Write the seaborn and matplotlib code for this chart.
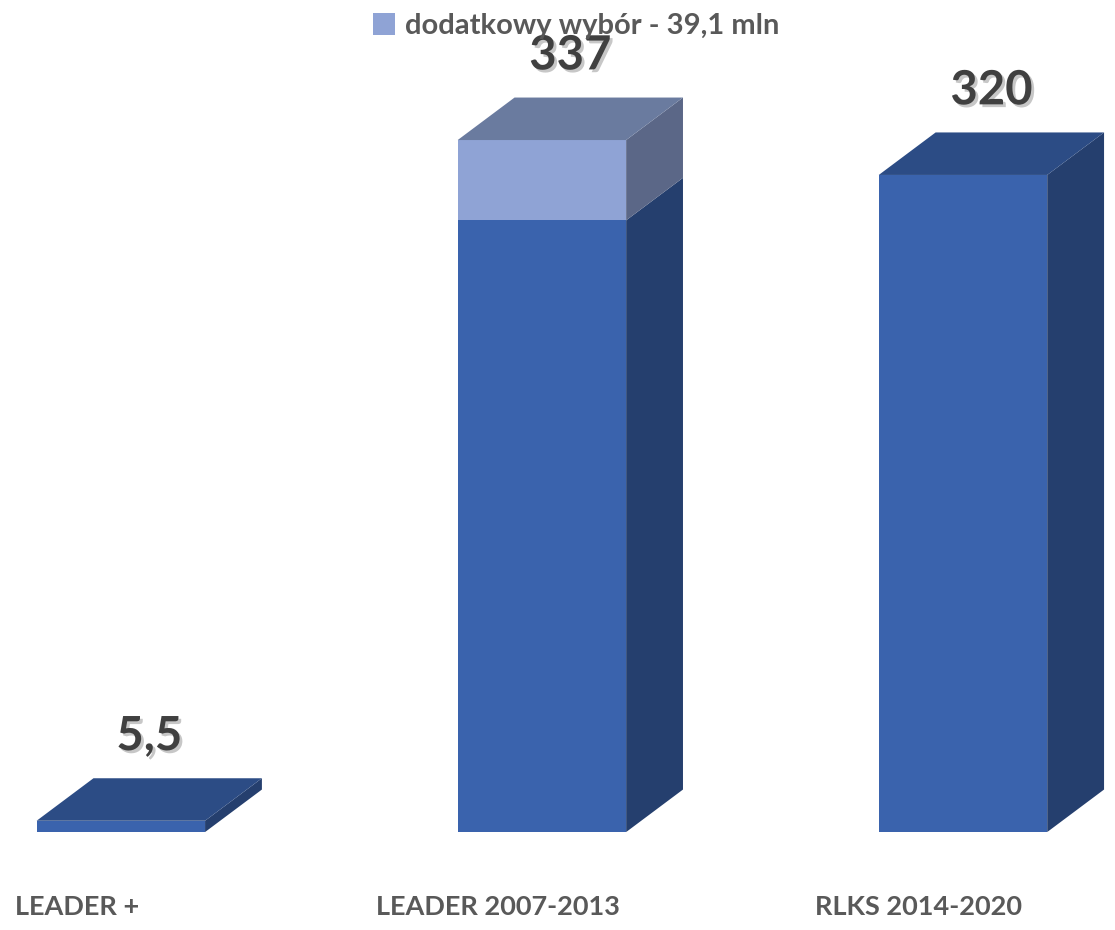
import pandas as pd
import matplotlib.pyplot as plt
import seaborn as sns
from matplotlib.patches import Polygon, Patch
import matplotlib.patheffects as pe

# data
categories = ["LEADER +", "LEADER 2007-2013", "RLKS 2014-2020"]
totals = [5.5, 337, 320]
extra = [0, 39.1, 0]
value_labels = ["5,5", "337", "320"]
legend_label = "dodatkowy wybór - 39,1 mln"

base = [t - e for t, e in zip(totals, extra)]
df = pd.DataFrame({"cat": categories, "total": totals, "base": base})

FRONT, TOP, SIDE = "#3A63AD", "#2C4C85", "#253F6E"
LFRONT, LTOP, LSIDE = "#8FA3D5", "#6A7B9F", "#5B6787"
TXT = "#595959"

sns.set_style("white")
plt.rcParams["font.family"] = ["Lato", "DejaVu Sans"]

fig = plt.figure(figsize=(11.15, 9.3), dpi=100)
ax = fig.add_axes([0, 0, 1, 1])

# stacked: totals in light colour, base drawn over it
sns.barplot(data=df, x="cat", y="total", color=LFRONT, saturation=1, width=0.4,
            linewidth=0, ax=ax)
sns.barplot(data=df, x="cat", y="base", color=FRONT, saturation=1, width=0.4,
            linewidth=0, ax=ax)

ax.set_xlim(-0.287, 2.361)
ax.set_ylim(-47.7, 405.2)
ax.axis("off")

dx, dy = 0.135, 20.7
n = len(categories)
light_bars = ax.patches[:n]
base_bars = ax.patches[n:2 * n]

for i in range(n):
    b = base_bars[i]
    x0 = b.get_x()
    x1 = x0 + b.get_width()
    h_base = b.get_height()
    h_tot = light_bars[i].get_height()
    # side face of main segment
    ax.add_patch(Polygon([(x1, 0), (x1 + dx, dy), (x1 + dx, h_base + dy), (x1, h_base)],
                         closed=True, facecolor=SIDE, edgecolor="none"))
    top_col = TOP
    if h_tot > h_base:
        ax.add_patch(Polygon([(x1, h_base), (x1 + dx, h_base + dy), (x1 + dx, h_tot + dy), (x1, h_tot)],
                             closed=True, facecolor=LSIDE, edgecolor="none"))
        top_col = LTOP
    ax.add_patch(Polygon([(x0, h_tot), (x0 + dx, h_tot + dy), (x1 + dx, h_tot + dy), (x1, h_tot)],
                         closed=True, facecolor=top_col, edgecolor="none"))
    cx = x0 + b.get_width() / 2
    ax.text(cx + dx / 2, h_tot + dy + 20.5, value_labels[i], ha="center", va="center",
            fontsize=34, fontweight="bold", color="#404040",
            path_effects=[pe.withSimplePatchShadow(offset=(2, -2), shadow_rgbFace="#000000", alpha=0.22)])
    ax.text(cx - 0.105, -36.5, categories[i], ha="center", va="center",
            fontsize=19.5, fontweight="bold", color=TXT)

handle = Patch(facecolor=LFRONT, edgecolor="none")
ax.legend([handle], [legend_label], loc="upper center", bbox_to_anchor=(0.517, 1.014),
          frameon=False, prop={"weight": "bold", "size": 21}, labelcolor=TXT,
          handlelength=0.75, handleheight=0.75, handletextpad=0.35)

fig.savefig("out.png", dpi=100)
